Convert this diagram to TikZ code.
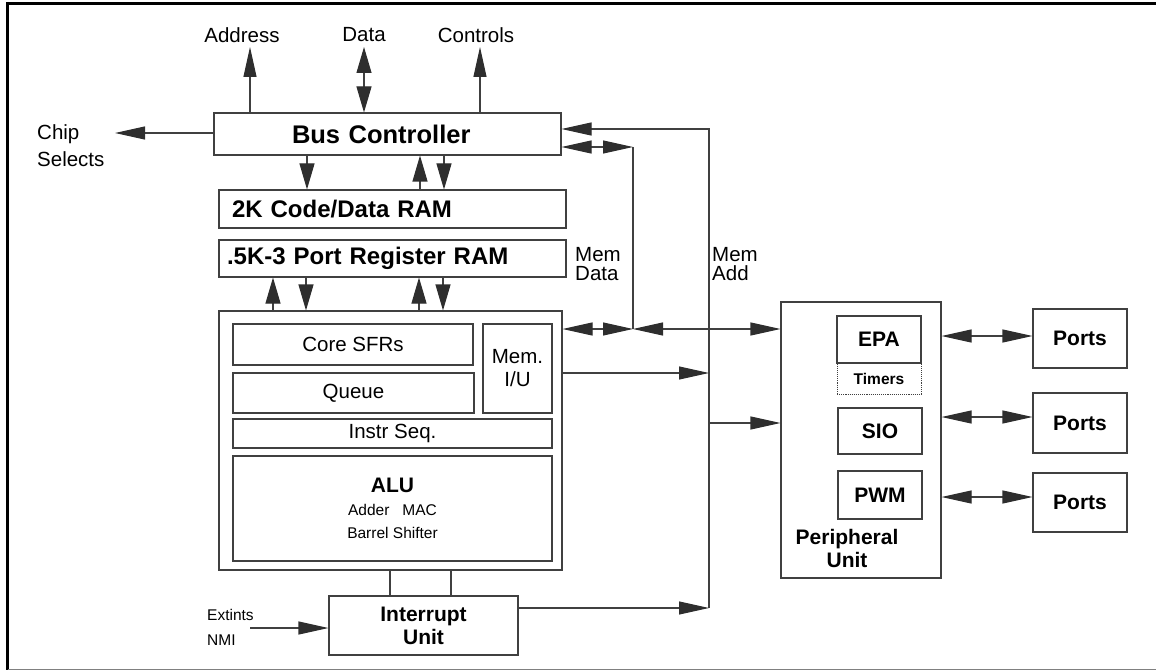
\documentclass[tikz,border=0pt]{standalone}
\usepackage{fontspec}
\setmainfont{Liberation Sans}
\usetikzlibrary{arrows.meta}
\definecolor{ln}{gray}{0.25}
\definecolor{ah}{gray}{0.18}
\newcommand\fReg{\fontsize{20.5}{23}\selectfont}
\newcommand\fRegT{\fontsize{20.5}{19}\selectfont}
\newcommand\fRegW{\fontsize{20.5}{27}\selectfont}
\newcommand\fSmall{\fontsize{15.5}{25}\selectfont}
\newcommand\fSmallB{\fontsize{15.5}{18}\selectfont\bfseries}
\newcommand\fBold{\fontsize{21}{23}\selectfont\bfseries}
\newcommand\fBig{\fontsize{24}{26}\selectfont\bfseries}
\newcommand\fHuge{\fontsize{25.5}{27}\selectfont\bfseries}
\tikzset{
  box/.style={draw=ln, line width=1.1pt, inner sep=0pt, font=\fReg},
  conn/.style={draw=ln, line width=1.1pt},
  arr/.style={conn, -{Triangle[length=30pt,width=13pt,color=ah]}},
  arrS/.style={conn, -{Triangle[length=26pt,width=15pt,color=ah]}},
  dbl/.style={conn, {Triangle[length=30pt,width=13pt,color=ah]}-{Triangle[length=30pt,width=13pt,color=ah]}},
  dblS/.style={conn, {Triangle[length=26pt,width=15pt,color=ah]}-{Triangle[length=26pt,width=15pt,color=ah]}},
}
\begin{document}
\begin{tikzpicture}[x=1pt,y=-1pt]
\useasboundingbox (0,0) rectangle (1156,671);
% frame
\draw[line width=3pt] (6,3.5) -- (1156,3.5);
\draw[line width=3pt] (7.5,2) -- (7.5,670);
\draw[gray, line width=1.2pt] (7.5,669.5) -- (1156,669.5);

% top labels
\node[font=\fReg] (addr) at (242,35) {Address};
\node[font=\fReg] (data) at (364,35) {Data};
\node[font=\fReg] (ctrl) at (476,35) {Controls};
\node[font=\fRegW, align=left, anchor=west, inner sep=0pt] (chip) at (37,146) {Chip\\Selects};
\node[font=\fRegT, align=left, anchor=west, inner sep=0pt] (memdata) at (575,264) {Mem\\Data};
\node[font=\fRegT, align=left, anchor=west, inner sep=0pt] (memadd) at (712,264) {Mem\\Add};
\node[font=\fSmall, align=left, anchor=west, inner sep=0pt] (ext) at (207,627.5) {Extints\\NMI};

% boxes
\node[box, minimum height=42pt, text width=191pt, inner xsep=78pt, align=left, font=\fHuge] (bus) at (387.5,134) {Bus Controller};
\node[box, minimum height=38pt, text width=321pt, inner xsep=13pt, align=left, font=\fBig] (ram2k) at (392.5,209) {2K Code/Data RAM};
\node[box, minimum height=37pt, text width=331pt, inner xsep=8pt, align=left, font=\fBig] (ram5k) at (392.5,258.5) {.5K-3 Port Register RAM};
\node[box, minimum width=343pt, minimum height=259pt] (core) at (390.5,440.5) {};
\node[box, minimum width=240pt, minimum height=41pt] (sfr) at (353,344.5) {Core SFRs};
\node[box, minimum width=241pt, minimum height=40pt] (queue) at (353.5,393) {Queue};
\node[box, minimum width=69pt, minimum height=89pt, align=center] (memiu) at (517.5,368.5) {Mem.\\I/U};
\node[box, minimum width=319pt, minimum height=29pt] (instr) at (392.5,433.5) {Instr Seq.};
\node[box, minimum width=319pt, minimum height=105pt, align=center, font=\fontsize{15.5}{23}\selectfont] (alu) at (392.5,508.5)
  {{\fBold ALU}\\Adder\hspace{13pt}MAC\\Barrel Shifter};
\node[box, minimum width=189pt, minimum height=59pt, align=center, font=\fBold] (intr) at (423.5,625.5) {Interrupt\\Unit};

\node[box, minimum width=160pt, minimum height=276pt] (periph) at (861,440) {};
\node[font=\fBold, align=center, inner sep=0pt] (plab) at (847,548.5) {Peripheral\\Unit};
\node[box, minimum width=84pt, minimum height=47pt, font=\fBold] (epa) at (879,339.5) {EPA};
\node[box, densely dotted, line width=0.9pt, minimum width=84pt, minimum height=31pt, font=\fSmallB] (timers) at (879,378.5) {Timers};
\node[box, minimum width=84pt, minimum height=46pt, font=\fBold] (sio) at (880,431) {SIO};
\node[box, minimum width=84pt, minimum height=48pt, font=\fBold] (pwm) at (880,495) {PWM};
\node[box, minimum width=94pt, minimum height=59pt, font=\fBold] (ports1) at (1080,338.5) {Ports};
\node[box, minimum width=94pt, minimum height=60pt, font=\fBold] (ports2) at (1080,423) {Ports};
\node[box, minimum width=94pt, minimum height=59pt, font=\fBold] (ports3) at (1080,502.5) {Ports};

% coordinates
\coordinate (addrT) at (250,47);
\coordinate (dataT) at (364,47);
\coordinate (ctrlT) at (480,47);
\coordinate (csT) at (115,133);
\coordinate (maTop) at (709,129);
\coordinate (maBot) at (709,608);
\coordinate (mdTop) at (633,147);
\coordinate (mdBot) at (633,329);
\coordinate (extS) at (250,628);

% bus connections
\draw[arr] (bus.north -| addrT) -- (addrT);
\draw[dblS] (bus.north -| dataT) -- (dataT);
\draw[arr] (bus.north -| ctrlT) -- (ctrlT);
\draw[arr] (bus.west |- csT) -- (csT);

\draw[arrS] (bus.south -| 307,0) -- (ram2k.north -| 307,0);
\draw[arrS] (ram2k.north -| 420,0) -- (bus.south -| 420,0);
\draw[arrS] (bus.south -| 444,0) -- (ram2k.north -| 444,0);

\draw[arrS] (core.north -| 273,0) -- (ram5k.south -| 273,0);
\draw[arrS] (ram5k.south -| 306,0) -- (core.north -| 306,0);
\draw[arrS] (core.north -| 419,0) -- (ram5k.south -| 419,0);
\draw[arrS] (ram5k.south -| 443,0) -- (core.north -| 443,0);

% Mem Add bus
\draw[arr] (maBot) -- (maTop) -- (bus.east |- maTop);
\draw[arr] (intr.east |- maBot) -- (maBot);
\draw[arr] (core.east |- 0,373) -- (maTop |- 0,373);
\draw[arr] (maTop |- 0,423) -- (periph.west |- 0,423);

% Mem Data bus
\draw[dbl] (bus.east |- mdTop) -- (mdTop);
\draw[conn] (mdTop) -- (mdBot);
\draw[dbl] (core.east |- mdBot) -- (mdBot);
\draw[dbl] (mdBot) -- (periph.west |- mdBot);

% core to interrupt
\draw[conn] (core.south -| 390,0) -- (intr.north -| 390,0);
\draw[conn] (core.south -| 451,0) -- (intr.north -| 451,0);
\draw[arr] (extS) -- (intr.west |- extS);

% ports
\draw[dbl] (periph.east |- 0,336) -- (ports1.west |- 0,336);
\draw[dbl] (periph.east |- 0,417) -- (ports2.west |- 0,417);
\draw[dbl] (periph.east |- 0,497) -- (ports3.west |- 0,497);
\end{tikzpicture}
\end{document}
